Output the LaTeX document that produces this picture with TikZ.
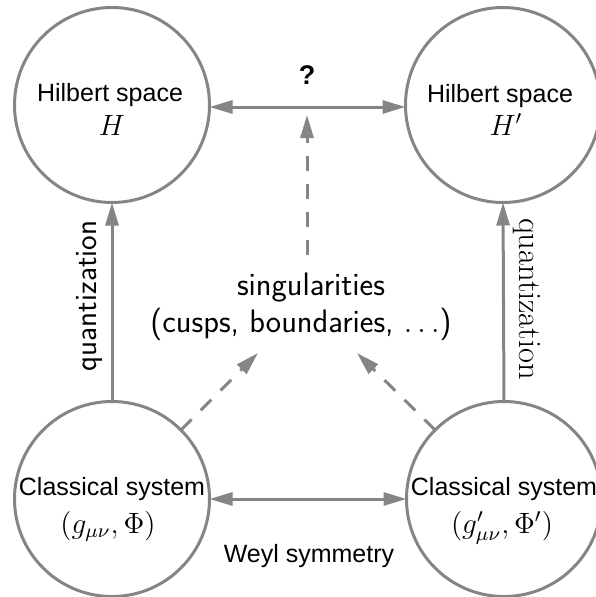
\documentclass[tikz,border=0pt]{standalone}
\usepackage{fontspec}
\newfontfamily\arialf{Liberation Sans}
\usetikzlibrary{arrows.meta}
\definecolor{lg}{HTML}{858585}
\newcommand{\mathbig}[1]{\scalebox{2.45}{\fontsize{12}{14}\selectfont #1}}
\begin{document}
\begin{tikzpicture}[x=1pt,y=-1pt,
  bubble/.style={circle,draw=lg,line width=3pt,minimum size=195pt,inner sep=0pt,outer sep=0pt},
  conn/.style={draw=lg,line width=3pt,-{Triangle[length=23pt,width=13pt]}},
  dconn/.style={conn,dash pattern=on 15pt off 13pt},
  atxt/.style={font=\arialf\fontsize{25}{30}\selectfont,inner sep=0pt,anchor=base},
  mtxt/.style={inner sep=0pt,anchor=base},
  stxt/.style={font=\sffamily\fontsize{32.5}{38}\selectfont,inner sep=0pt,anchor=base}]
\useasboundingbox (0,0) rectangle (596,597);
\node[bubble] (TL) at (112,105) {};
\node[bubble] (TR) at (503,105) {};
\node[bubble] (BL) at (112,499) {};
\node[bubble] (BR) at (504,499) {};
\node[atxt] (tlt) at (110,101) {Hilbert space};
\node[mtxt] (tlm) at (112,135) {\mathbig{$H$}};
\node[atxt] (trt) at (500,102) {Hilbert space};
\node[mtxt] (trm) at (506,135) {\mathbig{$H'$}};
\node[atxt] (blt) at (112,495) {Classical system};
\node[mtxt] (blm) at (108,533) {\mathbig{$(g_{\mu\nu},\Phi)$}};
\node[atxt] (brt) at (504,495) {Classical system};
\node[mtxt] (brm) at (502,533) {\mathbig{$(g'_{\mu\nu},\Phi')$}};
% top arrows
\coordinate (tm) at (307,107);
\draw[conn] (tm) -- (TL.east |- tm);
\draw[conn] (tm) -- (TR.west |- tm);
\node[font=\arialf\bfseries\fontsize{27}{32}\selectfont,inner sep=0pt] (q) at (307,75) {?};
% bottom arrows
\coordinate (bm) at (308,499);
\draw[conn] (bm) -- (BL.east);
\draw[conn] (bm) -- (BR.west);
\node[atxt] (weyl) at (309,562) {Weyl symmetry};
% quantization
\draw[conn] (BL.north) -- (TL.south);
\draw[conn] (BR.north) -- (TR.south);
\node[font=\sffamily\fontsize{31}{36}\selectfont,rotate=90,inner sep=0pt] (ql) at (89,296) {quantization};
\node[font=\fontsize{32.5}{38}\selectfont,rotate=-90,inner sep=0pt] (qr) at (527,299) {quantization};
% singularities
\node[stxt] (s1) at (311,295) {singularities};
\node[stxt] (s2) at (301,332) {(cusps, boundaries, \scalebox{2.6}{\fontsize{12}{14}\selectfont$.\,.\,.$})};
\coordinate (sv) at (307,255);
\coordinate (svt) at (307,115);
\draw[dconn] (sv) -- (svt);
\coordinate (dl) at (258,353);
\coordinate (dr) at (357,353);
\draw[dconn] (BL.45) -- (dl);
\draw[dconn] (BR.135) -- (dr);
\end{tikzpicture}
\end{document}
